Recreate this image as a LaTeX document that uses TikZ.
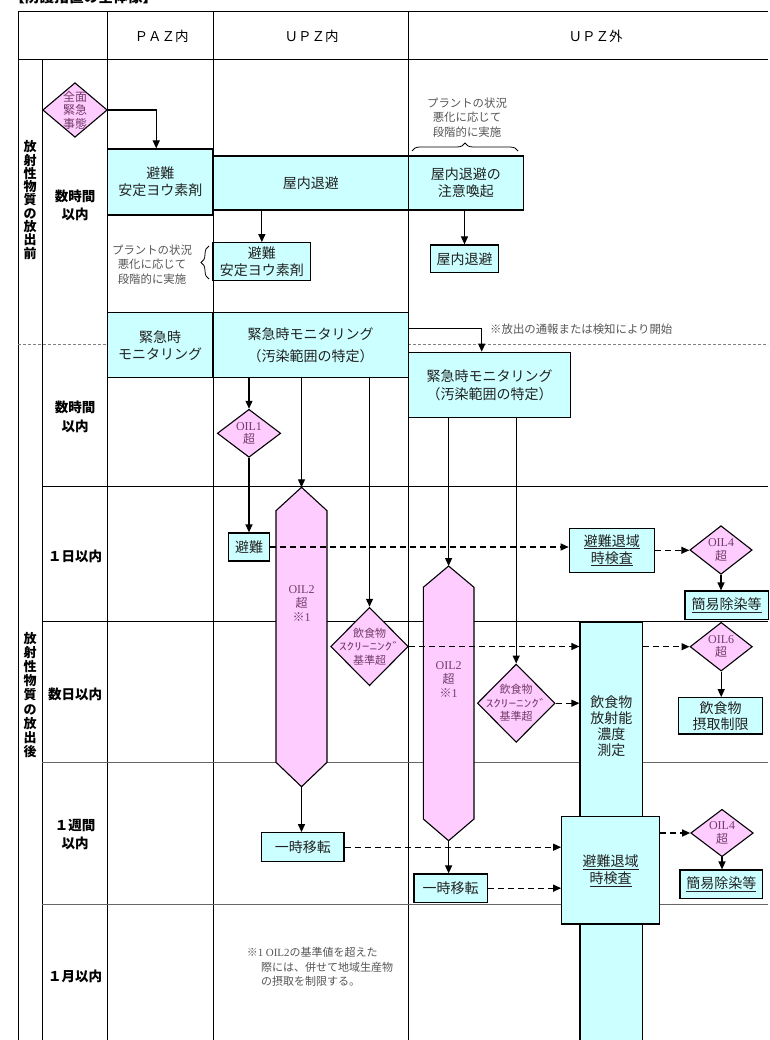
\documentclass[tikz,border=0pt]{standalone}
\usepackage{fontspec}
\usepackage{graphicx}
\setmainfont{Noto Sans CJK JP}
\newfontfamily\tms{Liberation Serif}
\usetikzlibrary{arrows.meta,decorations.pathreplacing,shapes.geometric,calc}
\definecolor{cy}{HTML}{CCFFFF}
\definecolor{pk}{HTML}{FFCCFF}
\definecolor{pktext}{RGB}{115,60,105}
\definecolor{bxtext}{HTML}{222222}
\definecolor{antext}{HTML}{555555}
\definecolor{gridgray}{HTML}{666666}
\begin{document}
\begin{tikzpicture}[x=1pt,y=-1pt,
  gridline/.style={line width=1pt, draw=black},
  cbox/.style={draw=black, fill=cy, line width=1.2pt, inner sep=0pt, align=center, text=bxtext, font=\fontsize{14}{17}\selectfont},
  pdia/.style={diamond, draw=black, fill=pk, line width=1.1pt, inner sep=0pt},
  pdtxt/.style={align=center, text=pktext, inner sep=0pt, font=\fontsize{12}{13.5}\selectfont},
  fdtxt/.style={align=center, text=pktext, inner sep=0pt, font=\fontsize{11}{13.4}\selectfont},
  hexs/.style={draw=black, fill=pk, line width=1.1pt},
  btext/.style={align=center, text=bxtext, inner sep=0pt, font=\fontsize{14}{16}\selectfont},
  ann/.style={align=center, text=antext, inner sep=0pt, font=\fontsize{11.4}{14.5}\selectfont},
  rowl/.style={align=center, inner sep=0pt, font=\bfseries\fontsize{13.5}{18}\selectfont},
  hdr/.style={inner sep=0pt, font=\fontsize{13.5}{15}\selectfont},
  vlab/.style={align=center, inner sep=0pt, font=\bfseries\fontsize{13}{13.3}\selectfont},
  arr/.style={-{Triangle[length=8pt,width=7pt]}, line width=1.2pt, draw=black},
  darr/.style={arr, dash pattern=on 6pt off 4pt},
  brace/.style={decorate, decoration={brace, amplitude=8pt}, line width=0.8pt, draw=black}
]
\useasboundingbox (0,0) rectangle (769,1040);

% clipped title
\node[anchor=base west, inner sep=0pt, font=\bfseries\fontsize{14.7}{15}\selectfont] (title) at (10,3) {【防護措置の全体像】};

% table grid
\draw[gridline] (18,12) -- (768,12);
\draw[gridline] (18,12) -- (18,1040);
\draw[gridline] (18,60) -- (768,60);
\draw[gridline] (42,60) -- (42,1040);
\draw[gridline] (107.5,12) -- (107.5,1040);
\draw[gridline] (213,12) -- (213,1040);
\draw[gridline] (408.5,12) -- (408.5,1040);
\draw[gridline] (42,486) -- (768,486);
\draw[gridline] (42,621.5) -- (768,621.5);
\draw[gridline, draw=gridgray] (42,762.7) -- (768,762.7);
\draw[gridline, draw=gridgray] (42,904) -- (768,904);
\draw[draw=gray, dash pattern=on 3pt off 2pt, line width=0.9pt] (18,344.3) -- (768,344.3);

% headers
\node[hdr] (hpaz) at (161.7,36.5) {ＰＡＺ内};
\node[hdr] (hupzin) at (311.7,36.5) {ＵＰＺ内};
\node[hdr] (hupzout) at (595.6,36.5) {ＵＰＺ外};

% left labels
\node[vlab] (pre) at (30,200) {放\\射\\性\\物\\質\\の\\放\\出\\前};
\node[vlab, font=\bfseries\fontsize{13}{14.2}\selectfont] (post) at (30,695) {放\\射\\性\\物\\質\\の\\放\\出\\後};
\node[rowl] (rl1) at (75,205) {数時間\\以内};
\node[rowl, font=\bfseries\fontsize{13.5}{19.5}\selectfont] (rl2) at (75,417) {数時間\\以内};
\node[rowl] (rl3) at (75,556) {１日以内};
\node[rowl] (rl4) at (75,694) {数日以内};
\node[rowl] (rl5) at (75,835) {１週間\\以内};
\node[rowl] (rl6) at (75,976) {１月以内};

% before release
\node[pdia, minimum width=64.6pt, minimum height=54.6pt, label={[pdtxt]center:{全面\\緊急\\事態}}] (zen) at (75,110) {};
\node[cbox, minimum width=105.5pt, minimum height=66pt] (b1) at (160.25,182) {避難\\安定ヨウ素剤};
\node[cbox, minimum width=195.5pt, minimum height=54pt] (b2) at (310.75,183) {屋内退避};
\node[cbox, minimum width=114.8pt, minimum height=54pt] (b3) at (465.9,183) {屋内退避の\\注意喚起};
\node[cbox, minimum width=97.7pt, minimum height=38pt] (b5) at (261.85,261.7) {避難\\安定ヨウ素剤};
\node[cbox, minimum width=67.6pt, minimum height=27.7pt] (b7) at (464.5,258.85) {屋内退避};
\node[ann] (note1) at (467,117.5) {プラントの状況\\悪化に応じて\\段階的に実施};
\draw[brace] (412,151) -- (518,151);
\node[ann] (note2) at (152,264.5) {プラントの状況\\悪化に応じて\\段階的に実施};
\draw[brace] (209,279) -- (209,246);

% monitoring
\node[cbox, minimum width=105.4pt, minimum height=65pt] (b8) at (160,345.2) {緊急時\\モニタリング};
\node[cbox, minimum width=195.3pt, minimum height=65pt, font=\fontsize{14}{21.7}\selectfont] (b9) at (310.65,345.2) {緊急時モニタリング\\（汚染範囲の特定）};
\node[cbox, minimum width=162.4pt, minimum height=65pt, font=\fontsize{14}{18}\selectfont] (b11) at (489.5,384.8) {緊急時モニタリング\\（汚染範囲の特定）};
\node[ann, anchor=west] (startnote) at (490,329) {※放出の通報または検知により開始};

% UPZ inside
\node[pdia, minimum width=63.4pt, minimum height=48pt, label={[pdtxt]center:{{\tms OIL1}\\超}}] (oil1) at (249,433.3) {};
\node[cbox, minimum width=41.2pt, minimum height=28pt] (hinan) at (249,547) {避難};
\coordinate (h1t) at (301.5,487.3);
\coordinate (h1b) at (301.5,786.7);
\path[hexs] (h1t) -- (327,510.7) -- (327,762.3) -- (h1b) -- (276,762.3) -- (276,510.7) -- cycle;
\node[pdtxt, font=\fontsize{12}{14}\selectfont] (h1txt) at (301.5,604) {{\tms OIL2}\\超\\※{\tms 1}};
\node[pdia, minimum width=77.6pt, minimum height=78.4pt, label={[fdtxt]center:{飲食物\\\scalebox{1.45}[1]{\fontsize{10.5}{11}\selectfont ｽｸﾘｰﾆﾝｸﾞ}\\基準超}}] (food1) at (369.5,646.5) {};
\node[cbox, minimum width=82.3pt, minimum height=29pt] (ichiji1) at (302.85,847.2) {一時移転};

% UPZ outside
\coordinate (h2t) at (448.6,566);
\coordinate (h2b) at (448.6,840.7);
\path[hexs] (h2t) -- (474,587.3) -- (474,819) -- (h2b) -- (423.3,819) -- (423.3,587.3) -- cycle;
\node[pdtxt, font=\fontsize{12}{14}\selectfont] (h2txt) at (448.6,680) {{\tms OIL2}\\超\\※{\tms 1}};
\node[pdia, minimum width=77.7pt, minimum height=78.3pt, label={[fdtxt]center:{飲食物\\\scalebox{1.45}[1]{\fontsize{10.5}{11}\selectfont ｽｸﾘｰﾆﾝｸﾞ}\\基準超}}] (food2) at (516.2,703.2) {};
\node[cbox, minimum width=73.3pt, minimum height=28.3pt] (ichiji2) at (450.65,888.15) {一時移転};

\node[cbox, minimum width=85pt, minimum height=44pt] (kensa1) at (611.8,550.3) {\underline{避難退域}\\\underline{時検査}};
\node[pdia, minimum width=62.3pt, minimum height=48.6pt, label={[pdtxt]center:{{\tms OIL4}\\超}}] (oil4a) at (721,550) {};
\node[cbox, minimum width=83.3pt, minimum height=28.3pt] (josen1) at (726.7,605.2) {\underline{簡易除染等}};

\node[cbox, minimum width=62.7pt, minimum height=430pt, anchor=north] (tall) at (611.35,621.7) {};
\node[btext] (talltxt) at (611.35,726) {飲食物\\放射能\\濃度\\測定};
\node[pdia, minimum width=62.3pt, minimum height=48.7pt, label={[pdtxt]center:{{\tms OIL6}\\超}}] (oil6) at (721.2,646.7) {};
\node[cbox, minimum width=84pt, minimum height=36.3pt, font=\fontsize{14}{16}\selectfont] (seigen) at (720.7,715.85) {飲食物\\摂取制限};

\node[cbox, minimum width=97.6pt, minimum height=107.3pt] (kensa2) at (610.5,870.35) {\underline{避難退域}\\\underline{時検査}};
\node[pdia, minimum width=62.6pt, minimum height=47.4pt, label={[pdtxt]center:{{\tms OIL4}\\超}}] (oil4b) at (722,833) {};
\node[cbox, minimum width=82.7pt, minimum height=28.3pt] (josen2) at (721.35,884.15) {\underline{簡易除染等}};

% footnote
\node[ann, anchor=north west, align=left, font=\fontsize{11}{14.5}\selectfont] (fn) at (246.7,947) {※{\tms 1} {\tms OIL2}の基準値を超えた\\\hspace*{14.3pt}際には、併せて地域生産物\\\hspace*{14.3pt}の摂取を制限する。};

% connectors
\draw[arr] (zen.east) -| ([xshift=-4pt]b1.north);
\draw[arr] (b2.south -| b5.north) -- (b5.north);
\draw[arr] (b3.south -| b7.north) -- (b7.north);
\draw[arr] ([yshift=16.9pt]b9.east) -| ([xshift=-7.8pt]b11.north);
\draw[arr] (b9.south -| oil1.north) -- (oil1.north);
\draw[arr] (b9.south -| h1t) -- (h1t);
\draw[arr] (b9.south -| food1.north) -- (food1.north);
\draw[arr] (b11.south -| h2t) -- (h2t);
\draw[arr] (b11.south -| food2.north) -- (food2.north);
\draw[arr] (oil1.south) -- (hinan.north);
\draw[arr] (h1b) -- (h1b |- ichiji1.north);
\draw[arr] (h2b) -- (h2b |- ichiji2.north);
\draw[arr] (oil4a.south) -- (oil4a.south |- josen1.north);
\draw[arr] (oil6.south) -- (oil6.south |- seigen.north);
\draw[arr] (oil4b.south) -- (oil4b.south |- josen2.north);
\draw[darr] (hinan.east) -- (hinan.east -| kensa1.west);
\draw[darr] (kensa1.east) -- (kensa1.east -| oil4a.west);
\draw[darr] (food1.east) -- (food1.east -| tall.west);
\draw[darr] (food2.east) -- (food2.east -| tall.west);
\draw[darr] (tall.east |- oil6.west) -- (oil6.west);
\draw[darr] (ichiji1.east) -- (ichiji1.east -| kensa2.west);
\draw[darr] (ichiji2.east) -- (ichiji2.east -| kensa2.west);
\draw[darr] (kensa2.east |- oil4b.west) -- (oil4b.west);
\end{tikzpicture}
\end{document}
